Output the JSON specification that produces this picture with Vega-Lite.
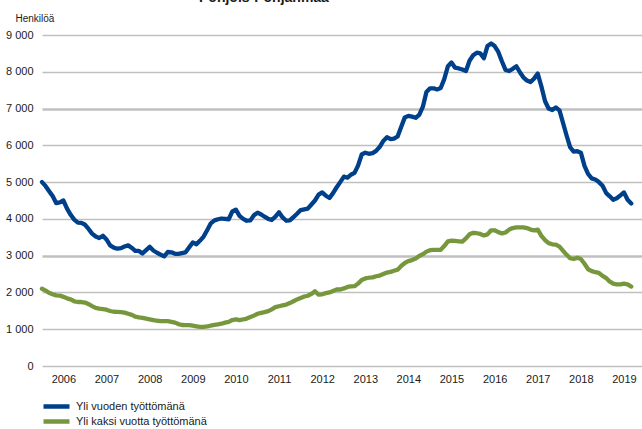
{
  "$schema": "https://vega.github.io/schema/vega-lite/v6.json",
  "width": 600,
  "height": 331,
  "autosize": {"type": "none"},
  "padding": {"left": 42, "top": 35, "right": 0, "bottom": 63},
  "background": "white",
  "config": {
    "font": "Liberation Sans",
    "view": {"stroke": null},
    "axis": {"labelFont": "Liberation Sans", "titleFont": "Liberation Sans", "labelColor": "#1a1a1a", "titleColor": "#1a1a1a"},
    "legend": {"labelFont": "Liberation Sans"}
  },
  "title": {
    "text": "Pohjois-Pohjanmaa",
    "font": "Liberation Sans",
    "fontSize": 14,
    "fontWeight": "bold",
    "color": "#1a1a1a",
    "anchor": "start",
    "frame": "group",
    "baseline": "alphabetic",
    "dx": 157,
    "dy": 10,
    "offset": 8
  },
  "data": {
    "values": [
      {"d": "2006-01-01", "a": 5000, "b": 2100},
      {"d": "2006-02-01", "a": 4890, "b": 2050},
      {"d": "2006-03-01", "a": 4760, "b": 1990},
      {"d": "2006-04-01", "a": 4620, "b": 1950},
      {"d": "2006-05-01", "a": 4430, "b": 1920},
      {"d": "2006-06-01", "a": 4450, "b": 1915},
      {"d": "2006-07-01", "a": 4500, "b": 1880},
      {"d": "2006-08-01", "a": 4280, "b": 1840},
      {"d": "2006-09-01", "a": 4110, "b": 1810},
      {"d": "2006-10-01", "a": 3980, "b": 1760},
      {"d": "2006-11-01", "a": 3900, "b": 1740},
      {"d": "2006-12-01", "a": 3890, "b": 1740},
      {"d": "2007-01-01", "a": 3840, "b": 1725},
      {"d": "2007-02-01", "a": 3720, "b": 1680},
      {"d": "2007-03-01", "a": 3600, "b": 1630},
      {"d": "2007-04-01", "a": 3520, "b": 1580},
      {"d": "2007-05-01", "a": 3480, "b": 1560},
      {"d": "2007-06-01", "a": 3540, "b": 1545},
      {"d": "2007-07-01", "a": 3440, "b": 1530},
      {"d": "2007-08-01", "a": 3280, "b": 1495},
      {"d": "2007-09-01", "a": 3220, "b": 1475},
      {"d": "2007-10-01", "a": 3190, "b": 1470},
      {"d": "2007-11-01", "a": 3205, "b": 1465},
      {"d": "2007-12-01", "a": 3250, "b": 1450},
      {"d": "2008-01-01", "a": 3280, "b": 1420},
      {"d": "2008-02-01", "a": 3210, "b": 1390},
      {"d": "2008-03-01", "a": 3130, "b": 1340},
      {"d": "2008-04-01", "a": 3130, "b": 1320},
      {"d": "2008-05-01", "a": 3060, "b": 1310},
      {"d": "2008-06-01", "a": 3150, "b": 1290},
      {"d": "2008-07-01", "a": 3240, "b": 1270},
      {"d": "2008-08-01", "a": 3140, "b": 1250},
      {"d": "2008-09-01", "a": 3080, "b": 1230},
      {"d": "2008-10-01", "a": 3030, "b": 1220},
      {"d": "2008-11-01", "a": 2980, "b": 1220},
      {"d": "2008-12-01", "a": 3100, "b": 1220},
      {"d": "2009-01-01", "a": 3090, "b": 1200},
      {"d": "2009-02-01", "a": 3050, "b": 1180},
      {"d": "2009-03-01", "a": 3050, "b": 1140},
      {"d": "2009-04-01", "a": 3070, "b": 1115},
      {"d": "2009-05-01", "a": 3090, "b": 1110},
      {"d": "2009-06-01", "a": 3230, "b": 1110},
      {"d": "2009-07-01", "a": 3360, "b": 1095},
      {"d": "2009-08-01", "a": 3310, "b": 1080},
      {"d": "2009-09-01", "a": 3410, "b": 1065},
      {"d": "2009-10-01", "a": 3520, "b": 1065},
      {"d": "2009-11-01", "a": 3700, "b": 1075},
      {"d": "2009-12-01", "a": 3880, "b": 1100},
      {"d": "2010-01-01", "a": 3960, "b": 1120},
      {"d": "2010-02-01", "a": 3990, "b": 1135},
      {"d": "2010-03-01", "a": 4010, "b": 1150},
      {"d": "2010-04-01", "a": 4000, "b": 1180},
      {"d": "2010-05-01", "a": 3990, "b": 1200},
      {"d": "2010-06-01", "a": 4200, "b": 1250},
      {"d": "2010-07-01", "a": 4250, "b": 1270},
      {"d": "2010-08-01", "a": 4080, "b": 1250},
      {"d": "2010-09-01", "a": 4000, "b": 1265},
      {"d": "2010-10-01", "a": 3950, "b": 1290},
      {"d": "2010-11-01", "a": 3960, "b": 1330},
      {"d": "2010-12-01", "a": 4100, "b": 1370},
      {"d": "2011-01-01", "a": 4170, "b": 1420},
      {"d": "2011-02-01", "a": 4120, "b": 1445},
      {"d": "2011-03-01", "a": 4060, "b": 1465},
      {"d": "2011-04-01", "a": 4000, "b": 1490},
      {"d": "2011-05-01", "a": 3970, "b": 1540},
      {"d": "2011-06-01", "a": 4060, "b": 1600},
      {"d": "2011-07-01", "a": 4180, "b": 1625},
      {"d": "2011-08-01", "a": 4040, "b": 1650},
      {"d": "2011-09-01", "a": 3950, "b": 1670},
      {"d": "2011-10-01", "a": 3960, "b": 1710},
      {"d": "2011-11-01", "a": 4050, "b": 1760},
      {"d": "2011-12-01", "a": 4140, "b": 1810},
      {"d": "2012-01-01", "a": 4240, "b": 1850},
      {"d": "2012-02-01", "a": 4260, "b": 1890},
      {"d": "2012-03-01", "a": 4280, "b": 1910},
      {"d": "2012-04-01", "a": 4390, "b": 1960},
      {"d": "2012-05-01", "a": 4500, "b": 2030},
      {"d": "2012-06-01", "a": 4660, "b": 1940},
      {"d": "2012-07-01", "a": 4720, "b": 1950},
      {"d": "2012-08-01", "a": 4630, "b": 1980},
      {"d": "2012-09-01", "a": 4570, "b": 2000},
      {"d": "2012-10-01", "a": 4700, "b": 2040},
      {"d": "2012-11-01", "a": 4860, "b": 2080},
      {"d": "2012-12-01", "a": 5000, "b": 2080},
      {"d": "2013-01-01", "a": 5150, "b": 2110},
      {"d": "2013-02-01", "a": 5120, "b": 2150},
      {"d": "2013-03-01", "a": 5200, "b": 2165},
      {"d": "2013-04-01", "a": 5250, "b": 2170},
      {"d": "2013-05-01", "a": 5450, "b": 2240},
      {"d": "2013-06-01", "a": 5750, "b": 2340},
      {"d": "2013-07-01", "a": 5800, "b": 2380},
      {"d": "2013-08-01", "a": 5770, "b": 2400},
      {"d": "2013-09-01", "a": 5790, "b": 2410},
      {"d": "2013-10-01", "a": 5850, "b": 2440},
      {"d": "2013-11-01", "a": 5960, "b": 2460},
      {"d": "2013-12-01", "a": 6120, "b": 2500},
      {"d": "2014-01-01", "a": 6220, "b": 2540},
      {"d": "2014-02-01", "a": 6170, "b": 2560},
      {"d": "2014-03-01", "a": 6180, "b": 2590},
      {"d": "2014-04-01", "a": 6240, "b": 2620},
      {"d": "2014-05-01", "a": 6500, "b": 2720},
      {"d": "2014-06-01", "a": 6760, "b": 2800},
      {"d": "2014-07-01", "a": 6800, "b": 2850},
      {"d": "2014-08-01", "a": 6780, "b": 2880},
      {"d": "2014-09-01", "a": 6750, "b": 2920},
      {"d": "2014-10-01", "a": 6830, "b": 2990},
      {"d": "2014-11-01", "a": 7050, "b": 3040},
      {"d": "2014-12-01", "a": 7450, "b": 3110},
      {"d": "2015-01-01", "a": 7550, "b": 3150},
      {"d": "2015-02-01", "a": 7550, "b": 3160},
      {"d": "2015-03-01", "a": 7520, "b": 3160},
      {"d": "2015-04-01", "a": 7560, "b": 3160},
      {"d": "2015-05-01", "a": 7800, "b": 3260},
      {"d": "2015-06-01", "a": 8150, "b": 3390},
      {"d": "2015-07-01", "a": 8250, "b": 3410},
      {"d": "2015-08-01", "a": 8110, "b": 3400},
      {"d": "2015-09-01", "a": 8090, "b": 3390},
      {"d": "2015-10-01", "a": 8060, "b": 3380},
      {"d": "2015-11-01", "a": 8020, "b": 3470},
      {"d": "2015-12-01", "a": 8300, "b": 3580},
      {"d": "2016-01-01", "a": 8450, "b": 3620},
      {"d": "2016-02-01", "a": 8520, "b": 3610},
      {"d": "2016-03-01", "a": 8500, "b": 3590},
      {"d": "2016-04-01", "a": 8370, "b": 3550},
      {"d": "2016-05-01", "a": 8700, "b": 3580},
      {"d": "2016-06-01", "a": 8770, "b": 3690},
      {"d": "2016-07-01", "a": 8700, "b": 3690},
      {"d": "2016-08-01", "a": 8540, "b": 3640},
      {"d": "2016-09-01", "a": 8280, "b": 3605},
      {"d": "2016-10-01", "a": 8050, "b": 3630},
      {"d": "2016-11-01", "a": 8020, "b": 3710},
      {"d": "2016-12-01", "a": 8080, "b": 3750},
      {"d": "2017-01-01", "a": 8150, "b": 3770},
      {"d": "2017-02-01", "a": 7980, "b": 3770},
      {"d": "2017-03-01", "a": 7850, "b": 3770},
      {"d": "2017-04-01", "a": 7760, "b": 3750},
      {"d": "2017-05-01", "a": 7720, "b": 3710},
      {"d": "2017-06-01", "a": 7820, "b": 3690},
      {"d": "2017-07-01", "a": 7950, "b": 3710},
      {"d": "2017-08-01", "a": 7600, "b": 3540},
      {"d": "2017-09-01", "a": 7200, "b": 3420},
      {"d": "2017-10-01", "a": 7000, "b": 3340},
      {"d": "2017-11-01", "a": 6960, "b": 3310},
      {"d": "2017-12-01", "a": 7030, "b": 3300},
      {"d": "2018-01-01", "a": 6950, "b": 3245},
      {"d": "2018-02-01", "a": 6600, "b": 3130},
      {"d": "2018-03-01", "a": 6280, "b": 3030},
      {"d": "2018-04-01", "a": 5950, "b": 2930},
      {"d": "2018-05-01", "a": 5830, "b": 2910},
      {"d": "2018-06-01", "a": 5840, "b": 2945},
      {"d": "2018-07-01", "a": 5800, "b": 2910},
      {"d": "2018-08-01", "a": 5440, "b": 2780},
      {"d": "2018-09-01", "a": 5220, "b": 2630},
      {"d": "2018-10-01", "a": 5100, "b": 2580},
      {"d": "2018-11-01", "a": 5070, "b": 2550},
      {"d": "2018-12-01", "a": 5000, "b": 2530},
      {"d": "2019-01-01", "a": 4900, "b": 2450},
      {"d": "2019-02-01", "a": 4700, "b": 2390},
      {"d": "2019-03-01", "a": 4620, "b": 2300},
      {"d": "2019-04-01", "a": 4520, "b": 2240},
      {"d": "2019-05-01", "a": 4560, "b": 2220},
      {"d": "2019-06-01", "a": 4640, "b": 2220},
      {"d": "2019-07-01", "a": 4720, "b": 2240},
      {"d": "2019-08-01", "a": 4520, "b": 2220},
      {"d": "2019-09-01", "a": 4420, "b": 2160}
    ]
  },
  "transform": [{"fold": ["a", "b"], "as": ["sarja", "arvo"]}],
  "mark": {"type": "line", "strokeWidth": 4.3, "strokeJoin": "round", "strokeCap": "round"},
  "encoding": {
    "x": {
      "field": "d",
      "type": "temporal",
      "scale": {
        "type": "utc",
        "domain": [
          {"year": 2006, "month": 1, "date": 1, "utc": true},
          {"year": 2019, "month": 12, "date": 1, "utc": true}
        ]
      },
      "axis": {
        "title": null,
        "grid": false,
        "domain": false,
        "ticks": false,
        "labelFontSize": 11,
        "labelPadding": 7,
        "labelExpr": "utcFormat(datum.value, '%Y')",
        "labelFlush": false,
        "labelOverlap": false,
        "values": [
          {"year": 2006, "month": 7, "date": 1, "utc": true},
          {"year": 2007, "month": 7, "date": 1, "utc": true},
          {"year": 2008, "month": 7, "date": 1, "utc": true},
          {"year": 2009, "month": 7, "date": 1, "utc": true},
          {"year": 2010, "month": 7, "date": 1, "utc": true},
          {"year": 2011, "month": 7, "date": 1, "utc": true},
          {"year": 2012, "month": 7, "date": 1, "utc": true},
          {"year": 2013, "month": 7, "date": 1, "utc": true},
          {"year": 2014, "month": 7, "date": 1, "utc": true},
          {"year": 2015, "month": 7, "date": 1, "utc": true},
          {"year": 2016, "month": 7, "date": 1, "utc": true},
          {"year": 2017, "month": 7, "date": 1, "utc": true},
          {"year": 2018, "month": 7, "date": 1, "utc": true},
          {"year": 2019, "month": 7, "date": 1, "utc": true}
        ]
      }
    },
    "y": {
      "field": "arvo",
      "type": "quantitative",
      "scale": {"domain": [0, 9000], "nice": false},
      "axis": {
        "values": [0, 1000, 2000, 3000, 4000, 5000, 6000, 7000, 8000, 9000],
        "labelExpr": "replace(format(datum.value, ','), ',', ' ')",
        "domain": false,
        "ticks": false,
        "labelFontSize": 11,
        "labelPadding": 9,
        "grid": true,
        "gridColor": "#c0c0c0",
        "gridWidth": {"condition": {"test": "datum.value === 3000 || datum.value === 7000", "value": 2.6}, "value": 1.3},
        "title": "Henkilöä",
        "titleAngle": 0,
        "titleAlign": "left",
        "titleBaseline": "alphabetic",
        "titleFontWeight": "normal",
        "titleFontSize": 10,
        "titleX": -27,
        "titleY": -13.5
      }
    },
    "color": {
      "field": "sarja",
      "type": "nominal",
      "scale": {"domain": ["a", "b"], "range": ["#003F8A", "#77973D"]},
      "legend": {
        "title": null,
        "orient": "none",
        "legendX": -1,
        "legendY": 364,
        "direction": "vertical",
        "symbolType": "stroke",
        "symbolSize": 676,
        "symbolStrokeWidth": 4.5,
        "clipHeight": 15,
        "rowPadding": 0,
        "labelFontSize": 11,
        "labelOffset": 4,
        "labelColor": "#1a1a1a",
        "labelExpr": "datum.label === 'a' ? 'Yli vuoden työttömänä' : 'Yli kaksi vuotta työttömänä'"
      }
    }
  }
}
